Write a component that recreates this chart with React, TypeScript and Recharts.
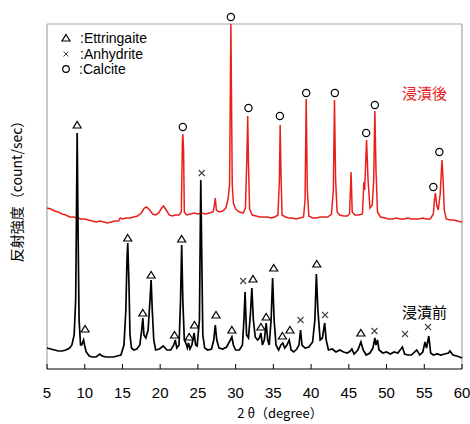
import React from 'react';
import { ComposedChart, Line, Scatter, XAxis, YAxis, ReferenceLine } from 'recharts';

// 強度は任意単位（グラフ上の相対値）
// 浸漬後（赤）
const afterTrace: [number, number][] = [
  [5.0, 161], [5.5, 160], [6.0, 158], [6.5, 157], [7.0, 155], [7.5, 154], [8.0, 152], [8.5, 152],
  [9.0, 151], [9.5, 150], [10.0, 150], [10.5, 149], [11.0, 148], [11.5, 147], [12.0, 148], [12.5, 147],
  [13.0, 146], [13.5, 147], [14.0, 148], [14.5, 148], [14.7, 151], [15.0, 150], [15.5, 151], [16.0, 151],
  [16.5, 152], [17.0, 153], [17.5, 156], [17.9, 161], [18.2, 162], [18.6, 159], [19.0, 155], [19.4, 154],
  [19.8, 156], [20.2, 161], [20.45, 163], [20.8, 159], [21.2, 154], [21.6, 153], [22.0, 154], [22.5, 154],
  [22.8, 157], [22.95, 229], [23.0, 235], [23.1, 219], [23.2, 157], [23.5, 154], [24.0, 155], [24.5, 156],
  [25.0, 155], [25.5, 156], [26.0, 155], [26.5, 156], [27.0, 157], [27.2, 164], [27.3, 171], [27.45, 159],
  [27.8, 157], [28.3, 158], [28.7, 161], [29.0, 170], [29.2, 185], [29.37, 345], [29.55, 185], [29.7, 166],
  [30.0, 160], [30.5, 157], [31.0, 156], [31.3, 161], [31.5, 215], [31.6, 253], [31.7, 205], [31.85, 160],
  [32.2, 154], [32.7, 153], [33.2, 152], [33.7, 152], [34.2, 152], [34.7, 151], [35.2, 152], [35.6, 154],
  [35.8, 189], [35.9, 244], [36.0, 199], [36.15, 154], [36.6, 152], [37.0, 151], [37.5, 151], [38.0, 150],
  [38.5, 151], [39.0, 152], [39.2, 169], [39.35, 270], [39.5, 179], [39.7, 153], [40.2, 151], [40.7, 151],
  [41.2, 152], [41.7, 152], [42.2, 152], [42.7, 155], [42.95, 179], [43.1, 269], [43.25, 189], [43.45, 157],
  [43.8, 154], [44.3, 153], [44.8, 153], [45.1, 155], [45.3, 197], [45.45, 157], [45.8, 154], [46.3, 154],
  [46.8, 155], [47.0, 187], [47.1, 179], [47.35, 229], [47.55, 189], [47.8, 161], [48.1, 164], [48.3, 189],
  [48.45, 258], [48.6, 199], [48.8, 157], [49.2, 152], [49.8, 151], [50.3, 150], [50.8, 150], [51.3, 151],
  [51.8, 150], [52.3, 150], [52.8, 151], [53.3, 150], [53.8, 150], [54.3, 150], [54.8, 151], [55.3, 150],
  [55.8, 150], [56.2, 155], [56.35, 169], [56.47, 176], [56.65, 164], [56.85, 159], [57.1, 174], [57.35, 209],
  [57.5, 189], [57.65, 159], [57.9, 150], [58.4, 149], [58.9, 149], [59.4, 148], [60.0, 147],
];

// 浸漬前（黒）
const beforeTrace: [number, number][] = [
  [5.0, 21], [5.5, 20], [6.0, 19], [6.5, 18], [7.0, 18], [7.5, 19], [8.0, 21], [8.3, 24],
  [8.6, 34], [8.8, 69], [8.9, 149], [9.0, 236], [9.1, 149], [9.25, 49], [9.45, 24], [9.6, 24],
  [9.85, 29], [10.0, 23], [10.2, 17], [10.6, 13], [11.0, 12], [11.5, 12], [12.0, 15], [12.3, 13],
  [12.8, 12], [13.3, 12], [13.8, 12], [14.3, 13], [14.8, 14], [15.2, 24], [15.45, 59], [15.6, 109],
  [15.7, 126], [15.85, 89], [16.0, 34], [16.2, 21], [16.5, 19], [16.9, 20], [17.3, 24], [17.55, 39],
  [17.7, 51], [17.85, 34], [18.1, 31], [18.4, 39], [18.65, 69], [18.8, 89], [18.95, 59], [19.15, 29],
  [19.4, 19], [19.9, 20], [20.4, 23], [20.9, 19], [21.4, 19], [21.8, 24], [22.0, 29], [22.2, 21],
  [22.5, 24], [22.7, 69], [22.85, 124], [23.0, 69], [23.2, 29], [23.4, 26], [23.6, 21], [23.75, 26],
  [23.95, 20], [24.2, 24], [24.5, 36], [24.7, 24], [24.9, 23], [25.2, 49], [25.38, 189], [25.5, 119],
  [25.65, 34], [25.9, 21], [26.3, 19], [26.8, 20], [27.1, 29], [27.3, 44], [27.5, 29], [27.8, 21],
  [28.3, 20], [28.8, 22], [29.3, 29], [29.5, 32], [29.7, 24], [30.0, 19], [30.5, 19], [30.9, 24],
  [31.1, 49], [31.25, 77], [31.45, 34], [31.7, 31], [31.95, 54], [32.15, 81], [32.35, 49], [32.6, 32],
  [32.9, 29], [33.15, 31], [33.35, 36], [33.55, 24], [33.8, 29], [34.05, 46], [34.25, 29], [34.45, 24],
  [34.7, 49], [34.9, 91], [35.1, 49], [35.35, 24], [35.7, 19], [36.0, 24], [36.25, 26], [36.5, 21],
  [36.8, 24], [37.1, 29], [37.35, 19], [37.7, 17], [38.1, 20], [38.4, 24], [38.6, 39], [38.8, 24],
  [39.2, 21], [39.7, 22], [40.2, 27], [40.5, 49], [40.7, 95], [40.9, 59], [41.2, 29], [41.5, 31],
  [41.8, 46], [42.0, 29], [42.3, 19], [42.8, 20], [43.3, 17], [43.8, 19], [44.3, 17], [44.8, 16],
  [45.2, 18], [45.4, 20], [45.7, 15], [46.2, 19], [46.6, 27], [46.9, 19], [47.3, 14], [47.8, 16],
  [48.2, 21], [48.45, 31], [48.6, 24], [48.8, 29], [49.0, 19], [49.5, 16], [50.0, 17], [50.5, 15],
  [51.0, 17], [51.5, 16], [52.1, 22], [52.4, 15], [52.8, 14], [53.3, 14], [53.7, 17], [54.0, 19],
  [54.4, 14], [54.8, 17], [55.1, 27], [55.3, 21], [55.6, 33], [55.85, 16], [56.2, 14], [56.7, 15],
  [57.2, 14], [57.7, 15], [58.2, 16], [58.4, 18], [58.8, 14], [59.3, 13], [59.7, 12], [60.0, 11],
];

// ピーク同定マーク（記号の下端位置）
const ettringite: [number, number][] = [
  [9.0, 236], [10.05, 32], [15.7, 123], [17.7, 48], [18.8, 86], [21.9, 26], [22.85, 122], [23.85, 24],
  [24.55, 36], [27.4, 46], [29.5, 31], [32.3, 82], [33.35, 34], [34.05, 44], [35.05, 93], [36.2, 25],
  [37.2, 31], [40.75, 97], [46.6, 28],
];
const anhydrite: [number, number][] = [
  [25.5, 188], [31.0, 80], [38.6, 41], [41.85, 46], [48.4, 30], [52.45, 27], [55.5, 34],
];
const calcite: [number, number][] = [
  [23.0, 234], [29.37, 344], [31.7, 253], [35.86, 245], [39.35, 268], [43.15, 268], [47.3, 228],
  [48.45, 256], [56.2, 174], [57.0, 209],
];

const xTicks = [5, 10, 15, 20, 25, 30, 35, 40, 45, 50, 55, 60];

const toRows = (arr: [number, number][]) => arr.map(([x, y]) => ({ x, y }));

const OFF = 8;

const TriangleMark = (props: any) => {
  const { cx, cy } = props;
  const y = cy - OFF;
  return (
    <path
      d={`M${cx},${y - 3.5} L${cx + 4},${y + 3} L${cx - 4},${y + 3} Z`}
      fill="none"
      stroke="#000"
      strokeWidth={1.2}
    />
  );
};

const CrossMark = (props: any) => {
  const { cx, cy } = props;
  const y = cy - OFF;
  return (
    <path
      d={`M${cx - 3},${y - 3} L${cx + 3},${y + 3} M${cx + 3},${y - 3} L${cx - 3},${y + 3}`}
      stroke="#444"
      strokeWidth={1.1}
    />
  );
};

const CircleMark = (props: any) => {
  const { cx, cy } = props;
  return <circle cx={cx} cy={cy - OFF} r={3.6} fill="none" stroke="#000" strokeWidth={1.2} />;
};

const XTick = (props: any) => {
  const { x, y, payload } = props;
  return (
    <g>
      <line x1={x} y1={y} x2={x} y2={y - 5} stroke="#000" strokeWidth={1} />
      <text x={x} y={y + 29} textAnchor="middle" fontSize={15} fill="#000" fontFamily="Liberation Sans, Arial, sans-serif">
        {payload.value}
      </text>
    </g>
  );
};

const App: React.FC = () => {
  return (
    <div style={{ position: 'absolute', left: 0, top: 0, width: 470, height: 424, background: '#fff' }}>
      <ComposedChart width={470} height={424} margin={{ top: 24, right: 8, bottom: 0, left: 47 }}>
        <XAxis
          type="number"
          dataKey="x"
          domain={[5, 60]}
          ticks={xTicks}
          tickSize={0}
          tickMargin={0}
          tickLine={false}
          tick={<XTick />}
          axisLine={{ stroke: '#000', strokeWidth: 1.2 }}
          height={55}
          interval={0}
        />
        <YAxis type="number" domain={[0, 345]} hide width={0} />
        <ReferenceLine y={345} stroke="#a6a6a6" strokeWidth={1.2} />
        <ReferenceLine x={5} stroke="#a6a6a6" strokeWidth={1.2} />
        <ReferenceLine x={60} stroke="#a6a6a6" strokeWidth={1.2} />
        <Line data={toRows(afterTrace)} dataKey="y" type="linear" stroke="#e8201c" strokeWidth={1.5} dot={false} isAnimationActive={false} />
        <Line data={toRows(beforeTrace)} dataKey="y" type="linear" stroke="#000" strokeWidth={1.7} dot={false} isAnimationActive={false} />
        <Scatter data={toRows(ettringite)} dataKey="y" shape={<TriangleMark />} isAnimationActive={false} />
        <Scatter data={toRows(anhydrite)} dataKey="y" shape={<CrossMark />} isAnimationActive={false} />
        <Scatter data={toRows(calcite)} dataKey="y" shape={<CircleMark />} isAnimationActive={false} />
      </ComposedChart>

      <svg width={470} height={424} style={{ position: 'absolute', left: 0, top: 0, pointerEvents: 'none' }}>
        {/* 凡例 */}
        <path d="M66,34.5 L70,41 L62,41 Z" fill="none" stroke="#000" strokeWidth={1.2} />
        <path d="M63.5,51.5 L68.5,56.5 M68.5,51.5 L63.5,56.5" stroke="#444" strokeWidth={1} />
        <circle cx={66} cy={69} r={3.3} fill="none" stroke="#000" strokeWidth={1.2} />
        <g fontFamily="Liberation Sans, Arial, sans-serif" fontSize={14} fill="#000">
          <text x={80} y={43}>:Ettringaite</text>
          <text x={80} y={59}>:Anhydrite</text>
          <text x={79} y={74}>:Calcite</text>
        </g>
        <text x={402} y={99} fontSize={15} fill="#e8201c" fontFamily="Noto Sans CJK JP">浸漬後</text>
        <text x={402} y={318} fontSize={15} fill="#000" fontFamily="Noto Sans CJK JP">浸漬前</text>
        <text x={280} y={418} textAnchor="middle" fontSize={13} fill="#000" fontFamily="Noto Sans CJK JP">2 θ（degree）</text>
        <text
          x={18}
          y={188}
          textAnchor="middle"
          fontSize={14}
          fill="#000"
          fontFamily="Noto Sans CJK JP"
          transform="rotate(-90 18 188)"
          dominantBaseline="middle"
        >
          反射強度（count/sec）
        </text>
      </svg>
    </div>
  );
};

export default App;
